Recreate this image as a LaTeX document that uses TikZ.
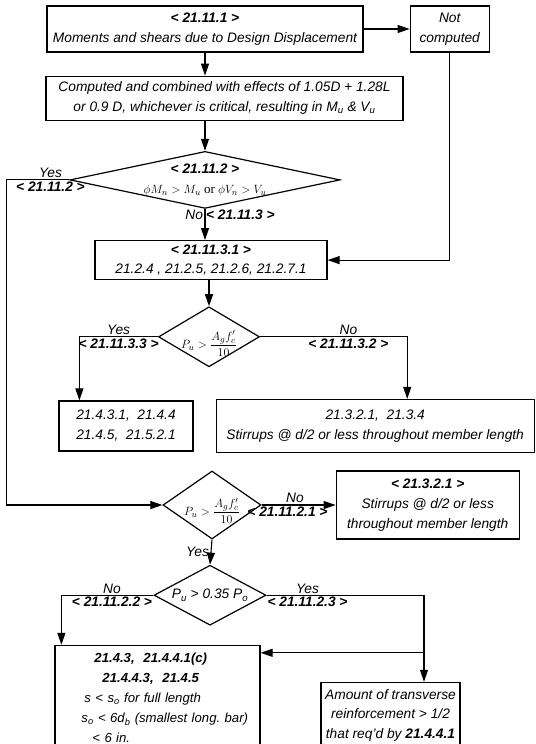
\documentclass[tikz,border=0pt]{standalone}
\usepackage{fontspec}
\setmainfont{Liberation Sans}
\newfontfamily\timesfont{Liberation Serif}
\usetikzlibrary{shapes.geometric, arrows.meta, positioning, calc}

\newcommand{\flowfont}{\itshape\fontsize{13.8}{20}\selectfont}
\newcommand{\clause}[1]{\textbf{< #1 >}}

\begin{document}
\begin{tikzpicture}[
    x=1bp, y=1bp,
    node distance=25bp and 25bp,
    box/.style = {rectangle, draw=black, line width=1.2bp, inner sep=0pt, align=center, font=\flowfont},
    decision/.style = {diamond, draw=black, line width=1.2bp, inner sep=0pt},
    formula/.style = {inner sep=0pt, align=center, font=\flowfont},
    tag/.style = {inner sep=1.5bp, font=\flowfont},
    line/.style = {draw, line width=1.1bp, -{Triangle[length=12bp,width=8bp]}},
]
\useasboundingbox (0,0) rectangle (536,-744);

% Design displacement
\node [box, minimum width=316bp, minimum height=46bp] (moments) at (205,-29) {\clause{21.11.1}\\Moments and shears due to Design Displacement};
\node [box, minimum width=79bp, minimum height=46bp, right=46bp of moments] (notcomp) {Not\\computed};
\node [box, minimum width=357bp, minimum height=44bp, below=23bp of moments, xshift=19.5bp] (combined) {Computed and combined with effects of 1.05D + 1.28L\\or 0.9 D, whichever is critical, resulting in M\textsubscript{u} \& V\textsubscript{u}};

% Strength check
\node [decision, minimum width=270bp, minimum height=57bp, below=30bp of combined, xshift=-19.5bp] (strength) {};
\node [formula] (strengthtext) at (strength.center) {\clause{21.11.2}\\{\fontsize{13}{15}\selectfont\timesfont\upshape $\phi M_n > M_u$ or $\phi V_n > V_u$}};
\node [box, minimum width=232bp, minimum height=39bp, below=31bp of strength, xshift=6bp] (spec) {\clause{21.11.3.1}\\21.2.4 , 21.2.5, 21.2.6, 21.2.7.1};

% Axial load, first branch
\node [decision, minimum width=101bp, minimum height=60bp, below=26bp of spec, xshift=-2bp] (axial1) {};
\node [formula, font=\fontsize{12.5}{14}\selectfont] (axial1text) at ([yshift=-7bp]axial1.center) {$P_u > \displaystyle\frac{A_g f_c'}{10}$};
\node [box, minimum width=134bp, minimum height=50bp, below=33bp of axial1, xshift=-83bp] (detail33) {21.4.3.1,~ 21.4.4\\21.4.5,~ 21.5.2.1};
\node [box, minimum width=318bp, minimum height=53bp, right=22bp of detail33] (detail32) {21.3.2.1,~ 21.3.4\\Stirrups @ d/2 or less throughout member length};

% Axial load, second branch
\node [decision, minimum width=98bp, minimum height=68bp, below=103bp of axial1, xshift=3bp] (axial2) {};
\node [formula, font=\fontsize{12.5}{14}\selectfont] (axial2text) at ([yshift=-6bp]axial2.center) {$P_u > \displaystyle\frac{A_g f_c'}{10}$};
\node [box, minimum width=183bp, minimum height=68bp, right=74bp of axial2] (stirrups) {\clause{21.3.2.1}\\Stirrups @ d/2 or less\\throughout member length};

\node [decision, minimum width=112bp, minimum height=60bp, below=25bp of axial2, xshift=-2bp] (axial3) {};
\node [formula] (axial3text) at (axial3.center) {P\textsubscript{u} > 0.35 P\textsubscript{o}};
\node [box, minimum width=205bp, minimum height=105bp, text width=190bp, align=left, font=\itshape\fontsize{13.2}{20}\selectfont, below=19bp of axial3, xshift=-52.5bp] (confine) {\hspace*{32bp}\textbf{21.4.3,~ 21.4.4.1(c)}\\\hspace*{40bp}\textbf{21.4.4.3,~ 21.4.5}\\\hspace*{22bp}s < s\textsubscript{o} for full length\\\hspace*{19bp}s\textsubscript{o} < 6d\textsubscript{b} (smallest long.\ bar)\\\hspace*{30bp}< 6 in.};
\node [box, minimum width=139bp, minimum height=66bp, below=56bp of axial3, xshift=180.5bp] (transverse) {Amount of transverse\\reinforcement > 1/2\\that req'd by \textbf{21.4.4.1}};

% Paths
\path [line] (moments.east) -- (notcomp.west);
\path [line] (moments.south) -- (moments.south |- combined.north);
\path [line] (strength.north |- combined.south) -- (strength.north);
\path [line] (strength.south) -- node[tag, pos=0.2, left] {No} node[tag, pos=0.2, right, inner xsep=0.5bp] {\clause{21.11.3}} (strength.south |- spec.north);
\path [line] (notcomp.south) |- (spec.east);
\path [line] (axial1.north |- spec.south) -- (axial1.north);

\path [line] (strength.west) -- ++(-63bp,0) node[tag, pos=0.3, above] {Yes} node[tag, pos=0.3, below] {\clause{21.11.2}} |- (axial2.west);

\path [line] (axial1.west) -| node[tag, pos=0.25, above] {Yes} node[tag, pos=0.25, below] {\clause{21.11.3.3}} ([xshift=21bp]detail33.north west);
\path [line] (axial1.east) -| node[tag, pos=0.3, above] {No} node[tag, pos=0.3, below] {\clause{21.11.3.2}} ([xshift=32bp]detail32.north);

\path [line] (axial2.east) -- node[tag, pos=0.45, above] {No} node[tag, pos=0.35, below] {\clause{21.11.2.1}} (stirrups.west);
\path [line] (axial2.south) -- node[tag, left] {Yes} (axial3.north);

\path [line] (axial3.west) -| node[tag, pos=0.225, above] {No} node[tag, pos=0.225, below] {\clause{21.11.2.2}} ([xshift=7bp]confine.north west);
\path [line] (axial3.east) -| node[tag, pos=0.13, above] {Yes} node[tag, pos=0.13, below] {\clause{21.11.2.3}} ([xshift=33.5bp]transverse.north);
\path [line] ($(confine.north east -| transverse.north)+(33.5bp,-8bp)$) -- ([yshift=-8bp]confine.north east);

\end{tikzpicture}
\end{document}
